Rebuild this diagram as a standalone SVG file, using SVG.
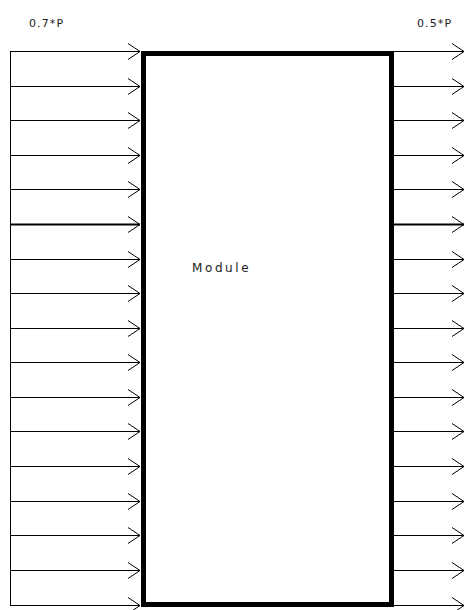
<svg xmlns="http://www.w3.org/2000/svg" width="465" height="610" viewBox="0 0 465 610">
<style>
.ln{stroke:#000;stroke-width:1;fill:none}
.thick{stroke-width:2}
.lbl{font-family:"DejaVu Sans","Liberation Sans",sans-serif;font-size:11px;fill:#222;letter-spacing:1.1px}
.box{fill:#fff;stroke:#000;stroke-width:5}
</style>
<defs>
<marker id="arr" markerUnits="userSpaceOnUse" markerWidth="20" markerHeight="20" refX="0" refY="0" viewBox="-14 -10 16 20" orient="auto" overflow="visible">
<path d="M-12,-8 L0,0 L-12,8" fill="none" stroke="#000" stroke-width="1"/>
</marker>
</defs>
<rect width="465" height="610" fill="#fff"/>
<g id="connectors">
<line class="ln" x1="10.5" y1="51" x2="10.5" y2="605.5"/>
<g id="inputs">
<line class="ln" x1="10" y1="51.5" x2="140" y2="51.5" marker-end="url(#arr)"/>
<line class="ln" x1="10" y1="86.5" x2="140" y2="86.5" marker-end="url(#arr)"/>
<line class="ln" x1="10" y1="120.5" x2="140" y2="120.5" marker-end="url(#arr)"/>
<line class="ln" x1="10" y1="155.5" x2="140" y2="155.5" marker-end="url(#arr)"/>
<line class="ln" x1="10" y1="189.5" x2="140" y2="189.5" marker-end="url(#arr)"/>
<line class="ln thick" x1="10" y1="224.5" x2="140" y2="224.5" marker-end="url(#arr)"/>
<line class="ln" x1="10" y1="259.5" x2="140" y2="259.5" marker-end="url(#arr)"/>
<line class="ln" x1="10" y1="293.5" x2="140" y2="293.5" marker-end="url(#arr)"/>
<line class="ln" x1="10" y1="328.5" x2="140" y2="328.5" marker-end="url(#arr)"/>
<line class="ln" x1="10" y1="362.5" x2="140" y2="362.5" marker-end="url(#arr)"/>
<line class="ln" x1="10" y1="397.5" x2="140" y2="397.5" marker-end="url(#arr)"/>
<line class="ln" x1="10" y1="431.5" x2="140" y2="431.5" marker-end="url(#arr)"/>
<line class="ln" x1="10" y1="466.5" x2="140" y2="466.5" marker-end="url(#arr)"/>
<line class="ln" x1="10" y1="501.5" x2="140" y2="501.5" marker-end="url(#arr)"/>
<line class="ln" x1="10" y1="535.5" x2="140" y2="535.5" marker-end="url(#arr)"/>
<line class="ln" x1="10" y1="570.5" x2="140" y2="570.5" marker-end="url(#arr)"/>
<line class="ln" x1="10" y1="605.5" x2="140" y2="605.5" marker-end="url(#arr)"/>
</g>
<g id="outputs">
<line class="ln" x1="394" y1="51.5" x2="464" y2="51.5" marker-end="url(#arr)"/>
<line class="ln" x1="394" y1="86.5" x2="464" y2="86.5" marker-end="url(#arr)"/>
<line class="ln" x1="394" y1="120.5" x2="464" y2="120.5" marker-end="url(#arr)"/>
<line class="ln" x1="394" y1="155.5" x2="464" y2="155.5" marker-end="url(#arr)"/>
<line class="ln" x1="394" y1="189.5" x2="464" y2="189.5" marker-end="url(#arr)"/>
<line class="ln thick" x1="394" y1="224.5" x2="464" y2="224.5" marker-end="url(#arr)"/>
<line class="ln" x1="394" y1="259.5" x2="464" y2="259.5" marker-end="url(#arr)"/>
<line class="ln" x1="394" y1="293.5" x2="464" y2="293.5" marker-end="url(#arr)"/>
<line class="ln" x1="394" y1="328.5" x2="464" y2="328.5" marker-end="url(#arr)"/>
<line class="ln" x1="394" y1="362.5" x2="464" y2="362.5" marker-end="url(#arr)"/>
<line class="ln" x1="394" y1="397.5" x2="464" y2="397.5" marker-end="url(#arr)"/>
<line class="ln" x1="394" y1="431.5" x2="464" y2="431.5" marker-end="url(#arr)"/>
<line class="ln" x1="394" y1="466.5" x2="464" y2="466.5" marker-end="url(#arr)"/>
<line class="ln" x1="394" y1="501.5" x2="464" y2="501.5" marker-end="url(#arr)"/>
<line class="ln" x1="394" y1="535.5" x2="464" y2="535.5" marker-end="url(#arr)"/>
<line class="ln" x1="394" y1="570.5" x2="464" y2="570.5" marker-end="url(#arr)"/>
<line class="ln" x1="394" y1="605.5" x2="464" y2="605.5" marker-end="url(#arr)"/>
</g>
</g>
<g id="module">
<rect class="box" x="143.5" y="53.5" width="248" height="551"/>
<text class="lbl" x="192" y="272" style="font-size:12px;letter-spacing:2.6px">Module</text>
</g>
<g id="label-in">
<text class="lbl" x="29" y="27">0.7*P</text>
</g>
<g id="label-out">
<text class="lbl" x="417" y="27">0.5*P</text>
</g>
</svg>
